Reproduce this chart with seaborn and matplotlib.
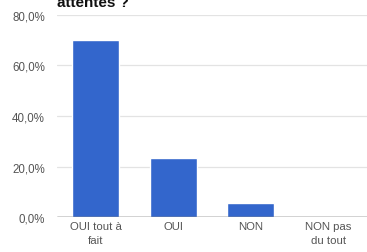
import matplotlib
matplotlib.use("Agg")
import matplotlib.pyplot as plt
import seaborn as sns
import pandas as pd
from matplotlib.ticker import FuncFormatter

categories = ["OUI tout à\nfait", "OUI", "NON", "NON pas\ndu tout"]
values = [70.0, 23.3, 5.7, 0.0]
yticks = [0, 20, 40, 60, 80]
title = "attentes ?"

df = pd.DataFrame({"cat": categories, "val": values})

sns.set_style("white")
plt.rcParams["font.family"] = ["Liberation Sans", "DejaVu Sans"]

fig = plt.figure(figsize=(3.67, 2.53), dpi=100)
ax = fig.add_axes([0.155, 0.138, 0.845, 0.799])

sns.barplot(data=df, x="cat", y="val", color="#3366CC", saturation=1,
            width=0.61, ax=ax, zorder=3)

ax.set_ylim(0, 80)
ax.set_xlim(-0.5, 3.5)
ax.set_yticks(yticks)
ax.yaxis.set_major_formatter(FuncFormatter(lambda v, p: f"{v:.1f}%".replace(".", ",")))
ax.grid(axis="y", color="#e3e3e3", linewidth=0.9, zorder=0)
ax.axhline(0, color="#333333", linewidth=1.0, zorder=4)
for s in ax.spines.values():
    s.set_visible(False)
ax.set_xlabel("")
ax.set_ylabel("")
ax.tick_params(axis="both", length=0, labelcolor="#555555")
ax.tick_params(axis="y", pad=8.5, labelsize=8.3)
ax.tick_params(axis="x", pad=3, labelsize=8.2)
for lbl in ax.get_xticklabels():
    lbl.set_linespacing(1.45)

fig.text(0.155, 0.99, title, fontsize=11, fontweight="bold", color="#111111",
         ha="left", va="center")

fig.savefig("out.png", dpi=100)
